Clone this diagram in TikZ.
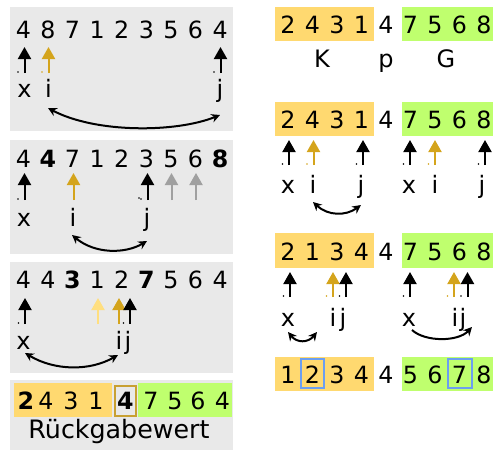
\documentclass[tikz,border=0pt]{standalone}
\usepackage{fontspec}
\setmainfont{DejaVu Sans}
\usetikzlibrary{arrows.meta}
\definecolor{pgray}{HTML}{E9E9E9}
\definecolor{kor}{HTML}{FFD970}
\definecolor{ggr}{HTML}{BFFF6E}
\definecolor{gold}{HTML}{D4A41C}
\definecolor{lyel}{HTML}{FFDF80}
\definecolor{garr}{HTML}{A0A0A0}
\definecolor{bluebox}{HTML}{6C9EF0}
\definecolor{goldbox}{HTML}{C8A032}
\newcommand\uarr[5]{% x, tip y, base y, colour, name
  \coordinate (#5b) at (#1,#3);
  \coordinate (#5t) at (#1,#2);
  \draw[uparrow,#4] (#5b) -- (#5t);}
\newcommand\udot[3]{\fill[#3] (#1-6.5,#2-1) circle[radius=0.7pt];}
\begin{document}
\begin{tikzpicture}[x=0.75pt,y=-0.75pt,
  dg/.style={anchor=base,inner sep=0pt,font=\fontsize{17.8}{21}\selectfont},
  lbl/.style={anchor=base,inner sep=0pt,font=\fontsize{18}{21}\selectfont},
  uparrow/.style={-{Triangle[width=9.75pt,length=9pt]},line width=1.5pt},
  swap/.style={{Stealth[length=6.5pt,width=6.5pt]}-{Stealth[length=6.5pt,width=6.5pt]},line width=1.5pt},
  onearr/.style={-{Stealth[length=6.5pt,width=6.5pt]},line width=1.5pt},
  panel/.style={fill=pgray,draw=none}]
\useasboundingbox (0,0) rectangle (493,450);
% ---------- left panels
\fill[panel] (10,7) rectangle (233,131);
\fill[panel] (10,140) rectangle (233,254);
\fill[panel] (10,262) rectangle (233,373);
\fill[panel] (10,380) rectangle (233,450);
% panel 1
\foreach \d [count=\k from 0] in {4,8,7,1,2,3,5,6,4}
  \node[dg] (pa\k) at ({23.3+24.6*\k},38) {\d};
\uarr{24.5}{47}{73}{black}{pax}
\uarr{48.5}{47}{73}{gold}{pai}
\uarr{220.5}{47}{73}{black}{paj}
\udot{24.5}{73}{black}\udot{48.5}{73}{gold}\udot{220.5}{73}{black}
\node[lbl] (lax) at (24.5,97) {x};
\node[lbl] (lai) at (48.5,97) {i};
\node[lbl] (laj) at (220,97) {j};
\coordinate (sa1) at (48,108);
\coordinate (sa2) at (220,115);
\draw[swap] (sa1) .. controls (95,133) and (175,133) .. (sa2);
% panel 2
\foreach \d [count=\k from 0] in {4,\textbf{4},7,1,2,3,5,6,\textbf{8}}
  \node[dg] (pb\k) at ({23.3+24.6*\k},167.5) {\d};
\uarr{24.5}{173}{200}{black}{pbx}
\uarr{73.5}{173}{200}{gold}{pbi}
\uarr{147.5}{173}{200}{black}{pbj}
\uarr{171.5}{173}{200}{garr}{pbg1}
\uarr{196}{173}{200}{garr}{pbg2}
\udot{24.5}{200}{black}\udot{147.5}{200}{black}\udot{145.5}{199}{black}
\node[lbl] (lbx) at (24,226) {x};
\node[lbl] (lbi) at (73,226) {i};
\node[lbl] (lbj) at (147,226) {j};
\coordinate (sb1) at (72,235);
\coordinate (sb2) at (147,241);
\draw[swap] (sb1) .. controls (95,254) and (125,254) .. (sb2);
% panel 3
\foreach \d [count=\k from 0] in {4,4,\textbf{3},1,2,\textbf{7},5,6,4}
  \node[dg] (pc\k) at ({23.3+24.6*\k},288.5) {\d};
\uarr{25}{298}{324}{black}{pcx}
\uarr{98}{298}{324}{lyel}{pcl}
\uarr{119}{298}{324}{gold}{pci}
\uarr{130}{298}{324}{black}{pcj}
\udot{25}{324}{black}\udot{130}{324}{black}
\node[lbl] (lcx) at (23.5,349) {x};
\node[lbl] (lci) at (119,349) {i};
\node[lbl] (lcj) at (128,349) {j};
\coordinate (sc1) at (25,353);
\coordinate (sc2) at (118,355);
\draw[swap] (sc1) .. controls (55,371) and (90,371) .. (sc2);
% panel 4
\fill[kor] (14,383) rectangle (112,417);
\fill[ggr] (138,383) rectangle (232,417);
\draw[goldbox,line width=1.3pt] (115,386) rectangle (136,416);
\foreach \d/\x [count=\k from 0] in {\textbf{2}/26,4/46,3/71,1/96,\textbf{4}/125.5,7/151,5/175,6/198,4/222.5}
  \node[dg] (pd\k) at (\x,409.5) {\d};
\node[anchor=base,inner sep=0pt,font=\fontsize{19}{22}\selectfont] (rueck) at (119,438.5) {Rückgabewert};
% ---------- right column
% row 1
\fill[kor] (275,7) rectangle (374,41);
\fill[ggr] (402,7) rectangle (493,41);
\foreach \d [count=\k from 0] in {2,4,3,1,4,7,5,6,8}
  \node[dg] (ra\k) at ({288+24.5*\k},33.5) {\d};
\node[lbl] (lK) at (322,67.5) {K};
\node[lbl] (lp) at (386,67.5) {p};
\node[lbl] (lG) at (446,67.5) {G};
% row 2
\fill[kor] (275,102) rectangle (374,136);
\fill[ggr] (402,102) rectangle (493,136);
\foreach \d [count=\k from 0] in {2,4,3,1,4,7,5,6,8}
  \node[dg] (rb\k) at ({288+24.5*\k},128.5) {\d};
\uarr{289}{140}{165}{black}{rbx}
\uarr{313.5}{140}{165}{gold}{rbi}
\uarr{363}{140}{165}{black}{rbj}
\uarr{410}{140}{165}{black}{rbx2}
\uarr{435}{140}{165}{gold}{rbi2}
\uarr{485}{140}{165}{black}{rbj2}
\udot{289}{165}{black}\udot{313.5}{165}{gold}\udot{363}{165}{black}
\udot{410}{165}{black}\udot{435}{165}{gold}\udot{485}{165}{black}
\node[lbl] (lrbx) at (288,193) {x};
\node[lbl] (lrbi) at (313,193) {i};
\node[lbl] (lrbj) at (361,193) {j};
\node[lbl] (lrbx2) at (409,193) {x};
\node[lbl] (lrbi2) at (435,193) {i};
\node[lbl] (lrbj2) at (482,193) {j};
\coordinate (sd1) at (313,202);
\coordinate (sd2) at (361,205);
\draw[swap] (sd1) .. controls (328,216) and (346,216) .. (sd2);
% row 3
\fill[kor] (275,233) rectangle (374,268);
\fill[ggr] (402,233) rectangle (493,268);
\foreach \d [count=\k from 0] in {2,1,3,4,4,7,5,6,8}
  \node[dg] (rc\k) at ({288+24.5*\k},260.5) {\d};
\uarr{290}{272}{297}{black}{rcx}
\uarr{333}{272}{297}{gold}{rci}
\uarr{346}{272}{297}{black}{rcj}
\uarr{410}{272}{297}{black}{rcx2}
\uarr{454}{272}{297}{gold}{rci2}
\uarr{467.5}{272}{297}{black}{rcj2}
\udot{290}{297}{black}\udot{333}{297}{gold}\udot{346}{297}{black}
\udot{410}{297}{black}\udot{454}{297}{gold}\udot{467.5}{297}{black}
\node[lbl] (lrcx) at (288,326) {x};
\node[lbl] (lrci) at (333,326) {i};
\node[lbl] (lrcj) at (343,326) {j};
\node[lbl] (lrcx2) at (409,326) {x};
\node[lbl] (lrci2) at (455,326) {i};
\node[lbl] (lrcj2) at (463,326) {j};
\coordinate (se1) at (288,332);
\coordinate (se2) at (317,332);
\draw[swap] (se1) .. controls (297,343) and (308,343) .. (se2);
\coordinate (sf1) at (412,330);
\coordinate (sf2) at (472,327);
\draw[onearr] (sf1) .. controls (425,342) and (458,342) .. (sf2);
% row 4
\fill[kor] (275,357) rectangle (374,391);
\fill[ggr] (402,357) rectangle (493,391);
\draw[bluebox,line width=1.3pt] (301,359) rectangle (324,388);
\draw[bluebox,line width=1.3pt] (448,359) rectangle (472,388);
\foreach \d [count=\k from 0] in {1,2,3,4,4,5,6,7,8}
  \node[dg] (rd\k) at ({288+24.5*\k},383.5) {\d};
\end{tikzpicture}
\end{document}
